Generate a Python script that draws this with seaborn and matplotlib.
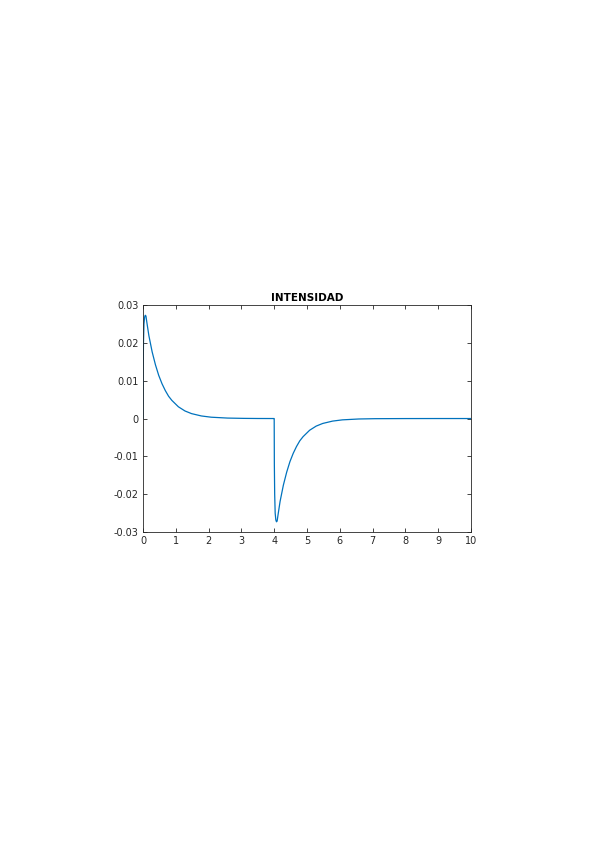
import matplotlib
matplotlib.use("Agg")
import matplotlib.pyplot as plt
import seaborn as sns
import pandas as pd

# current (A vs s)
t_vals = [0.0, 0.005, 0.015, 0.03, 0.05, 0.07, 0.09, 0.12, 0.18, 0.28, 0.38,
          0.48, 0.58, 0.68, 0.78, 0.88, 1.08, 1.28, 1.48, 1.78, 2.08, 2.58,
          3.08, 3.5, 3.995,
          4.0, 4.005, 4.015, 4.03, 4.05, 4.07, 4.09, 4.12, 4.18, 4.28, 4.38,
          4.48, 4.58, 4.68, 4.78, 4.88, 5.08, 5.28, 5.48, 5.78, 6.08, 6.58,
          7.08, 8.0, 9.0, 10.0]
i_vals = [0.0, 0.012, 0.020, 0.0250, 0.0268, 0.0273, 0.0271, 0.0253, 0.0219,
          0.0176, 0.0142, 0.0114, 0.0092, 0.0074, 0.0059, 0.0048, 0.0031,
          0.0020, 0.0013, 0.00068, 0.00035, 0.00012, 0.00004, 0.00001, 0.0,
          -0.0, -0.012, -0.020, -0.0250, -0.0268, -0.0273, -0.0271, -0.0253,
          -0.0219, -0.0176, -0.0142, -0.0114, -0.0092, -0.0074, -0.0059,
          -0.0048, -0.0031, -0.0020, -0.0013, -0.00068, -0.00035, -0.00012,
          -0.00004, -0.00001, 0.0, 0.0]

x_ticks = [0, 1, 2, 3, 4, 5, 6, 7, 8, 9, 10]
y_ticks = [0.03, 0.02, 0.01, 0, -0.01, -0.02, -0.03]
y_labels = ['0.03', '0.02', '0.01', '0', '-0.01', '-0.02', '-0.03']

sns.set_style("white")
plt.rcParams['font.family'] = ['DejaVu Sans']

df = pd.DataFrame({'t': t_vals, 'i': i_vals})

fig = plt.figure(figsize=(5.99, 8.48), dpi=100)
ax = fig.add_axes([0.2387, 0.3726, 0.5476, 0.2677])

sns.lineplot(data=df, x='t', y='i', ax=ax, color='#0072BD', linewidth=0.9,
             estimator=None, sort=False)

ax.set_xlim(0, 10)
ax.set_ylim(-0.03, 0.03)
ax.set_xticks(x_ticks)
ax.set_xticklabels([str(v) for v in x_ticks])
ax.set_yticks(y_ticks)
ax.set_yticklabels(y_labels)
ax.set_xlabel('')
ax.set_ylabel('')
ax.set_title('INTENSIDAD', fontsize=7.5, fontweight='bold', pad=3, color='black')

for s in ax.spines.values():
    s.set_visible(True)
    s.set_color('#262626')
    s.set_linewidth(0.6)
ax.tick_params(direction='in', length=3, width=0.6, colors='#262626',
               labelsize=7, labelcolor='#262626', top=True, right=True,
               bottom=True, left=True, pad=3)

fig.savefig('out.png', dpi=100)
